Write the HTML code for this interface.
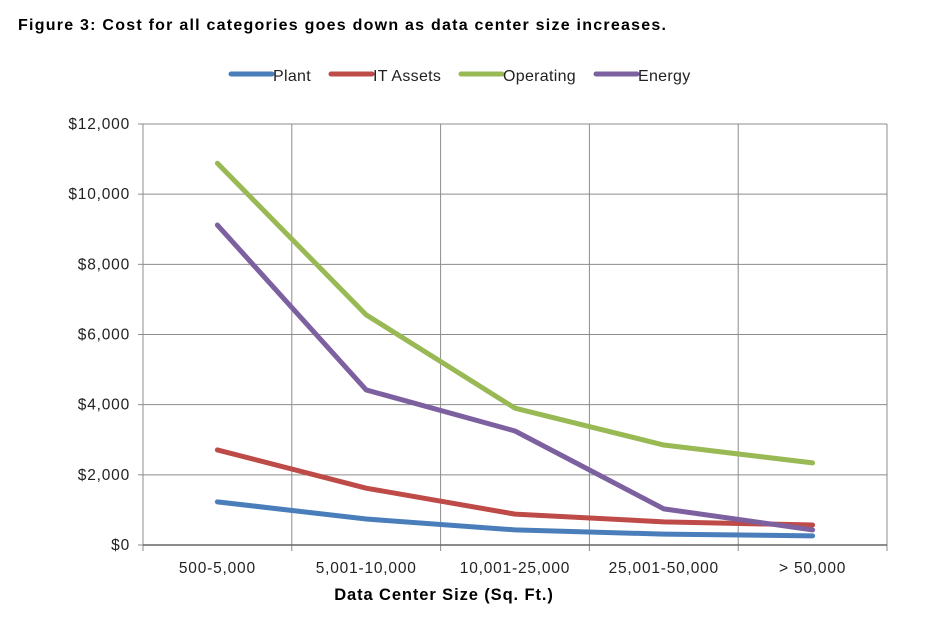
<!DOCTYPE html>
<html><head><meta charset="utf-8"><style>
body{margin:0;background:#fff;width:926px;height:617px;overflow:hidden;font-family:"Liberation Sans",Arial,sans-serif}
</style></head><body>
<svg id="chart" width="926" height="617" xmlns="http://www.w3.org/2000/svg">
<text x="18" y="30" font-size="16" font-weight="bold" fill="#000" textLength="648" lengthAdjust="spacing">Figure 3: Cost for all categories goes down as data center size increases.</text>
<g id="plot"></g>
</svg>
<script>
const categories=["500-5,000","5,001-10,000","10,001-25,000","25,001-50,000","> 50,000"];
const plant=[1230,740,430,310,260];
const itAssets=[2710,1620,880,660,570];
const operating=[10880,6560,3900,2850,2340];
const energy=[9120,4420,3250,1030,430];
const yTicks=[0,2000,4000,6000,8000,10000,12000];
const yTickLabels=["$0","$2,000","$4,000","$6,000","$8,000","$10,000","$12,000"];
const seriesNames=["Plant","IT Assets","Operating","Energy"];
const seriesColors=["#4a7ebb","#be4b48","#98b954","#7d60a0"];
const seriesData=[plant,itAssets,operating,energy];

const NS="http://www.w3.org/2000/svg";
const g=document.getElementById('plot');
const L=143,R=887,T=124,B=545;
const bw=(R-L)/categories.length;
const xPos=i=>L+bw*(i+0.5);
const yPos=v=>B-(v/12000)*(B-T);
function mk(tag,attrs){const e=document.createElementNS(NS,tag);for(const k in attrs)e.setAttribute(k,attrs[k]);g.appendChild(e);return e;}
yTicks.forEach((t,i)=>{
  const l=mk('line',{x1:L,x2:R,y1:yPos(t),y2:yPos(t),stroke:'#8c8c8c','stroke-width':1});
  
  
  const tk=mk('line',{x1:L-5,x2:L,y1:yPos(t),y2:yPos(t),stroke:'#8c8c8c'});
  
  
  const tx=mk('text',{x:L-13,y:yPos(t)+5,'text-anchor':'end','font-size':15.5,'letter-spacing':0.8,fill:'#222'});
  tx.textContent=yTickLabels[i];
  
  
});
for(let i=0;i<=categories.length;i++){
  const x=L+bw*i;
  const l=mk('line',{x1:x,x2:x,y1:T,y2:B+6,stroke:'#8c8c8c','stroke-width':1});
  
  
}
const ax=mk('line',{x1:L,x2:R,y1:B,y2:B,stroke:'#666','stroke-width':1.5});


categories.forEach((c,i)=>{
  const tx=mk('text',{x:xPos(i),y:B+28,'text-anchor':'middle','font-size':15.5,'letter-spacing':0.8,fill:'#222'});
  tx.textContent=c;
  
  
});
const xt=mk('text',{x:444,y:600,'text-anchor':'middle','font-size':16.5,'font-weight':'bold','letter-spacing':0.9,fill:'#000'});
xt.textContent="Data Center Size (Sq. Ft.)";


seriesData.forEach((d,s)=>{
  const p=mk('polyline',{points:d.map((v,i)=>xPos(i)+','+yPos(v)).join(' '),fill:'none',stroke:seriesColors[s],'stroke-width':5,'stroke-linejoin':'round','stroke-linecap':'round'});
  
  
});
const legX=[231,331,461,596];
seriesNames.forEach((n,s)=>{
  const l=mk('line',{x1:legX[s],x2:legX[s]+41,y1:74,y2:74,stroke:seriesColors[s],'stroke-width':5,'stroke-linecap':'round'});
  
  
  const t=mk('text',{x:legX[s]+42,y:81,'font-size':16,'letter-spacing':0.3,fill:'#222'});
  t.textContent=n;
  
  
});
</script>
</body></html>
